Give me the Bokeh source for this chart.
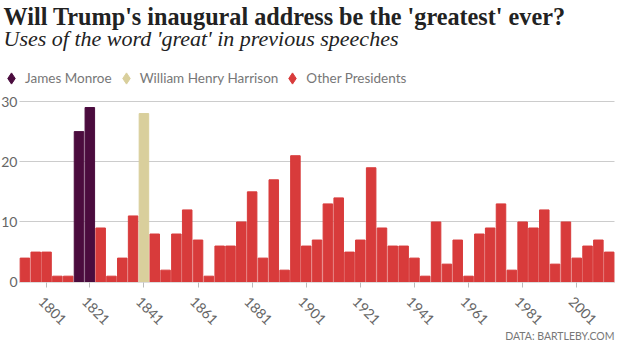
import math
from bokeh.plotting import figure
from bokeh.models import (ColumnDataSource, Range1d, FixedTicker, Label, Legend, LegendItem,
                          LinearAxis)
from bokeh.embed import file_html
from bokeh.resources import INLINE

# ---- data ----
years = [1789, 1797, 1801, 1805, 1809, 1817, 1821, 1825, 1829, 1833,
         1837, 1841, 1845, 1849, 1853, 1857, 1861, 1865, 1869, 1873,
         1877, 1881, 1885, 1889, 1893, 1897, 1901, 1905, 1909, 1913,
         1917, 1921, 1925, 1929, 1933, 1937, 1941, 1945, 1949, 1953,
         1957, 1961, 1965, 1969, 1973, 1977, 1981, 1985, 1989, 1993,
         1997, 2001, 2005, 2009, 2013]
great_counts = [4, 5, 5, 1, 1, 25, 29, 9, 1, 4,
                11, 28, 8, 2, 8, 12, 7, 1, 6, 6,
                10, 15, 4, 17, 2, 21, 6, 7, 13, 14,
                5, 7, 19, 9, 6, 6, 4, 1, 10, 3,
                7, 1, 8, 9, 13, 2, 10, 9, 12, 3,
                10, 4, 6, 7, 5]
monroe_years = [1817, 1821]
harrison_years = [1841]
tick_years = [1801, 1821, 1841, 1861, 1881, 1901, 1921, 1941, 1961, 1981, 2001]
y_ticks = [0, 10, 20, 30]
series_names = ["James Monroe", "William Henry Harrison", "Other Presidents"]
series_colors = ["#4b0c3e", "#d9cf9c", "#d83b3b"]

# ---- derived table ----
n = len(years)
idx = list(range(1, n + 1))
groups = []
for yr in years:
    if yr in monroe_years:
        groups.append(0)
    elif yr in harrison_years:
        groups.append(1)
    else:
        groups.append(2)
colors = [series_colors[g] for g in groups]
src = ColumnDataSource(dict(x=idx, top=great_counts, color=colors, year=years))

W, H = 616, 345
p = figure(width=W, height=H, output_backend="svg", toolbar_location=None,
           x_range=Range1d(-1.256, n + 0.675), y_range=Range1d(-10.51, 46.77),
           min_border=0)
p.title.visible = False
p.outline_line_color = None
p.background_fill_color = "white"

# grid (limited to the bar area)
p.xgrid.grid_line_color = None
yg = p.ygrid[0]
yg.ticker = FixedTicker(ticks=y_ticks)
if "cross_bounds" in yg.properties():
    yg.cross_bounds = (0.5, n + 0.5)
    yg.grid_line_color = "#cccccc"
    yg.grid_line_width = 1
else:
    yg.grid_line_color = None
    p.segment(x0=[0.5] * len(y_ticks), x1=[n + 0.5] * len(y_ticks),
              y0=y_ticks, y1=y_ticks, line_color="#cccccc", line_width=1)

p.vbar(x="x", top="top", width=0.88, color="color", source=src)

# y axis drawn inside the frame, just left of the first bar
p.yaxis.fixed_location = 0.5
p.yaxis.ticker = FixedTicker(ticks=y_ticks)
p.yaxis.axis_line_color = None
p.yaxis.major_tick_line_color = None
p.yaxis.minor_tick_line_color = None
p.yaxis.major_tick_in = 0
p.yaxis.major_tick_out = 0
p.yaxis.major_label_standoff = 2
p.yaxis.major_label_text_font = "Lato"
p.yaxis.major_label_text_font_size = "14px"
p.yaxis.major_label_text_color = "#666666"

# x axis at zero: one axis for tick marks at bar centres, one for the slanted labels
tick_pos = [idx[years.index(t)] for t in tick_years]
label_shift = 0.5
label_pos = [t - label_shift for t in tick_pos]
p.xaxis.fixed_location = 0
p.xaxis.bounds = (0.5, n + 0.5)
p.xaxis.ticker = FixedTicker(ticks=label_pos)
p.xaxis.major_label_overrides = {pos: str(t) for pos, t in zip(label_pos, tick_years)}
p.xaxis.axis_line_color = None
p.xaxis.major_tick_line_color = None
p.xaxis.minor_tick_line_color = None
p.xaxis.major_tick_in = 0
p.xaxis.major_tick_out = 5
p.xaxis.major_label_orientation = -math.pi / 4
p.xaxis.major_label_standoff = 12
p.xaxis.major_label_text_font = "Lato"
p.xaxis.major_label_text_font_size = "14px"
p.xaxis.major_label_text_color = "#666666"

tick_axis = LinearAxis(fixed_location=0, bounds=(0.5, n + 0.5),
                       ticker=FixedTicker(ticks=tick_pos),
                       axis_line_color="#dddddd", major_tick_line_color="#bbbbbb",
                       major_tick_in=0, major_tick_out=5, minor_tick_line_color=None,
                       major_label_text_color=None, major_label_text_font_size="1px")
p.add_layout(tick_axis, "below")

# legend with diamond keys (zero-size scatter points; the legend draws its own key size)
items = []
for g, (name, col) in enumerate(zip(series_names, series_colors)):
    gx = [x for x, gg in zip(idx, groups) if gg == g]
    gy = [v for v, gg in zip(great_counts, groups) if gg == g]
    r = p.scatter(x=gx, y=gy, marker="diamond", size=0, color=col)
    items.append(LegendItem(label=name, renderers=[r]))
legend = Legend(items=items, location=(-3, 252), orientation="horizontal",
                glyph_width=28, glyph_height=30, label_standoff=0, spacing=0,
                padding=0, margin=0, border_line_color=None, background_fill_alpha=0,
                label_text_font="Lato", label_text_font_size="13.5px",
                label_text_color="#777777")
p.add_layout(legend)

# titles and source
p.add_layout(Label(x=3, y=329, x_units="screen", y_units="screen",
                   text="Will Trump's inaugural address be the 'greatest' ever?",
                   text_baseline="alphabetic",
                   text_font="Liberation Serif", text_font_style="bold",
                   text_font_size="24.2px", text_color="#222222"))
p.add_layout(Label(x=3, y=307, x_units="screen", y_units="screen",
                   text="Uses of the word 'great' in previous speeches",
                   text_baseline="alphabetic",
                   text_font="Liberation Serif", text_font_style="italic",
                   text_font_size="22px", text_color="#222222"))
p.add_layout(Label(x=614, y=10, x_units="screen", y_units="screen",
                   text="DATA: BARTLEBY.COM", text_align="right", text_baseline="alphabetic",
                   text_font="Lato", text_font_size="10.5px", text_color="#777777"))

open("out.html", "w").write(file_html(p, INLINE))
